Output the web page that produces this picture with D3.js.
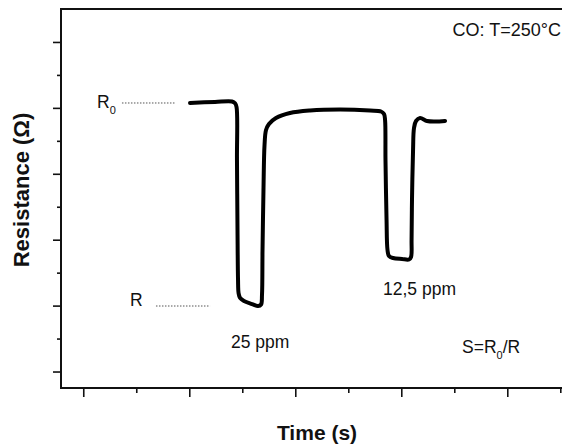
<!DOCTYPE html>
<html lang="en">
<head>
    <meta charset="UTF-8">
    <title>CO response</title>
    <script src="https://cdn.jsdelivr.net/npm/d3@7"></script>
    <style>
        body { margin: 0; background: #fff; }
        svg { display: block; font-family: "Liberation Sans", Arial, sans-serif; }
        .lbl { font-size: 17.5px; fill: #111; }
        .title { font-size: 21px; font-weight: bold; fill: #111; }
    </style>
</head>
<body>
    <svg width="562" height="444"></svg>

    <script>
        // time (arbitrary s) and resistance (arbitrary units)
        const time = [200.7, 224.3, 240.3, 243.2, 244.6, 245.0, 245.5, 246.0, 246.5, 247.9, 251.6, 259.2, 264.8,
            267.7, 268.6, 269.1, 270.0, 271.0, 272.4, 275.2, 281.8, 295.0, 313.9, 342.2, 370.5, 380.9, 383.7,
            384.7, 385.1, 386.1, 387.0, 388.4, 392.2, 400.7, 407.3, 409.2, 409.7, 410.1, 411.1, 412.0, 413.9,
            417.7, 424.3, 431.8, 441.3];
        const resistance = [5.074, 5.09, 5.097, 5.07, 5.013, 4.209, 3.147, 2.389, 2.191, 2.116, 2.070, 2.024, 1.994,
            2.017, 2.161, 2.844, 3.754, 4.437, 4.664, 4.755, 4.846, 4.922, 4.960, 4.975, 4.960, 4.945, 4.907,
            4.816, 4.209, 3.299, 2.844, 2.753, 2.722, 2.707, 2.700, 2.738, 2.996, 3.602, 4.361, 4.695, 4.801,
            4.846, 4.801, 4.793, 4.801];
        const xMajor = [100, 200, 300, 400, 500];
        const xMinor = [150, 250, 350, 450, 550];
        const yMajor = [1, 2, 3, 4, 5, 6];
        const yMinor = [1.5, 2.5, 3.5, 4.5, 5.5];
        const r0Level = 5.074, rLevel = 1.994;

        const svg = d3.select("svg");
        const x = d3.scaleLinear().domain([79, 560]).range([61, 570.9]);
        const y = d3.scaleLinear().domain([0.75, 6.5]).range([388, 9]);

        // frame
        svg.append("path")
            .attr("d", `M${x(560)},${y(6.5)}H${x(79)}V${y(0.75)}H${x(560)}`)
            .attr("fill", "none").attr("stroke", "#111").attr("stroke-width", 2);

        function ticks(g, axis) {
            g.call(axis);
            g.select(".domain").remove();
            g.selectAll("line").attr("stroke", "#111").attr("stroke-width", 1.6);
        }
        svg.append("g").attr("transform", `translate(0,${y(0.75)})`)
            .call(g => ticks(g, d3.axisBottom(x).tickValues(xMajor).tickSize(9).tickFormat("")));
        svg.append("g").attr("transform", `translate(0,${y(0.75)})`)
            .call(g => ticks(g, d3.axisBottom(x).tickValues(xMinor).tickSize(5).tickFormat("")));
        svg.append("g").attr("transform", `translate(${x(79)},0)`)
            .call(g => ticks(g, d3.axisLeft(y).tickValues(yMajor).tickSize(8).tickFormat("")));
        svg.append("g").attr("transform", `translate(${x(79)},0)`)
            .call(g => ticks(g, d3.axisLeft(y).tickValues(yMinor).tickSize(4).tickFormat("")));

        // dotted guides for R0 and R
        svg.append("line")
            .attr("x1", x(136.5)).attr("x2", x(186.5)).attr("y1", y(r0Level)).attr("y2", y(r0Level))
            .attr("stroke", "#555").attr("stroke-width", 1).attr("stroke-dasharray", "1.5,1.5");
        svg.append("line")
            .attr("x1", x(168.6)).attr("x2", x(219.6)).attr("y1", y(rLevel)).attr("y2", y(rLevel))
            .attr("stroke", "#555").attr("stroke-width", 1).attr("stroke-dasharray", "1.5,1.5");

        // trace
        const pts = time.map((t, i) => [t, resistance[i]]);
        svg.append("path")
            .datum(pts)
            .attr("d", d3.line().x(d => x(d[0])).y(d => y(d[1])).curve(d3.curveCatmullRom.alpha(0.5)))
            .attr("fill", "none").attr("stroke", "#000").attr("stroke-width", 4)
            .attr("stroke-linejoin", "round").attr("stroke-linecap", "round");

        // labels
        const r0 = svg.append("text").attr("class", "lbl").attr("x", 97).attr("y", 108);
        r0.append("tspan").text("R");
        r0.append("tspan").attr("dy", 6).attr("font-size", "11px").text("0");

        svg.append("text").attr("class", "lbl").attr("x", 130).attr("y", 306).text("R");
        svg.append("text").attr("class", "lbl").attr("x", 231).attr("y", 348).text("25 ppm");
        svg.append("text").attr("class", "lbl").attr("x", 383).attr("y", 295).text("12,5 ppm");
        svg.append("text").attr("class", "lbl").attr("x", 561).attr("y", 36)
            .attr("text-anchor", "end").style("font-size", "18px").text("CO: T=250°C");

        const s = svg.append("text").attr("class", "lbl").attr("x", 462).attr("y", 353);
        s.append("tspan").text("S=R");
        s.append("tspan").attr("dy", 6).attr("font-size", "11px").text("0");
        s.append("tspan").attr("dy", -6).text("/R");

        svg.append("text").attr("class", "title").attr("x", 317).attr("y", 440)
            .attr("text-anchor", "middle").text("Time (s)");
        svg.append("text").attr("class", "title").style("font-size", "22px")
            .attr("transform", "translate(29,190) rotate(-90)")
            .attr("text-anchor", "middle").text("Resistance (Ω)");
    </script>
</body>
</html>
